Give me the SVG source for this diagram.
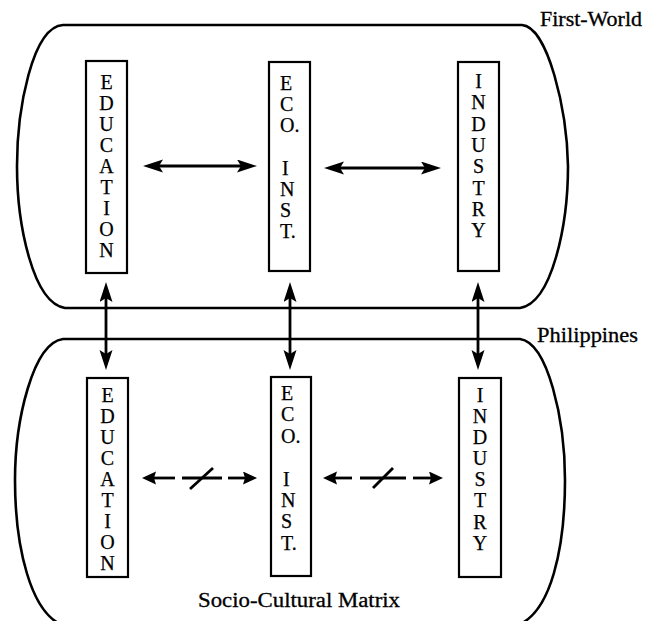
<svg xmlns="http://www.w3.org/2000/svg" width="649" height="621" viewBox="0 0 649 621">
<style>
.frame{fill:none;stroke:#000;stroke-width:2.6}
.box{fill:#fff;stroke:#000;stroke-width:2.2}
.lt{font-family:"Liberation Serif","Times New Roman",serif;font-size:20px;fill:#000;stroke:#000;stroke-width:0.25}
.lbl{font-family:"Liberation Serif","Times New Roman",serif;font-size:20px;fill:#000;stroke:#000;stroke-width:0.3}
.ar{stroke:#000;stroke-width:2.8;fill:none}
.mid{text-anchor:middle}
</style>
<defs>
<marker id="h" markerUnits="userSpaceOnUse" markerWidth="22" markerHeight="14" refX="12" refY="6.5" orient="auto-start-reverse" viewBox="0 0 22 14">
<path d="M0,0 L20,6.5 L0,13 L4,6.5 Z" fill="#000"/>
</marker>
<marker id="h2" markerUnits="userSpaceOnUse" markerWidth="16" markerHeight="14" refX="6" refY="6.5" orient="auto" viewBox="0 0 16 14">
<path d="M0,0 L14,6.5 L0,13 L2,6.5 Z" fill="#000"/>
</marker>
</defs>
<rect width="649" height="621" fill="#fff"/>

<g id="first-world">
<path class="frame" d="M63,25 L522,25 C548,27 567,110 568,166 C568,225 552,303 520,308 L65,308 C33,303 17,225 17,166 C17,110 32,27 63,25 Z"/>
<text class="lbl" x="540" y="26" textLength="102" lengthAdjust="spacingAndGlyphs">First-World</text>
</g>

<g id="philippines">
<path class="frame" d="M63,339 L520,339 C548,343 565,420 565,480 C565,545 552,615 515,626 L65,626 C30,615 15,545 15,480 C15,420 33,343 63,339 Z"/>
<text class="lbl" x="537" y="342" textLength="101" lengthAdjust="spacingAndGlyphs">Philippines</text>
<text class="lbl" x="198" y="607" textLength="202" lengthAdjust="spacingAndGlyphs">Socio-Cultural Matrix</text>
</g>

<g id="fw-education">
<rect class="box" x="86" y="61" width="41" height="212"/>
<text class="lt mid"><tspan x="106.5" y="89">E</tspan><tspan x="106.5" y="110">D</tspan><tspan x="106.5" y="131">U</tspan><tspan x="106.5" y="152">C</tspan><tspan x="106.5" y="173">A</tspan><tspan x="106.5" y="194">T</tspan><tspan x="106.5" y="215">I</tspan><tspan x="106.5" y="236">O</tspan><tspan x="106.5" y="257">N</tspan></text>
</g>

<g id="fw-eco">
<rect class="box" x="269" y="62" width="41" height="209"/>
<text class="lt"><tspan x="280" y="90">E</tspan><tspan x="280" y="111">C</tspan><tspan x="280" y="132">O.</tspan><tspan x="282" y="175">I</tspan><tspan x="280" y="196">N</tspan><tspan x="280" y="217">S</tspan><tspan x="280" y="238">T.</tspan></text>
</g>

<g id="fw-industry">
<rect class="box" x="458" y="62" width="41" height="209"/>
<text class="lt mid"><tspan x="478.5" y="88">I</tspan><tspan x="478.5" y="109">N</tspan><tspan x="478.5" y="131">D</tspan><tspan x="478.5" y="152">U</tspan><tspan x="478.5" y="173">S</tspan><tspan x="478.5" y="195">T</tspan><tspan x="478.5" y="216">R</tspan><tspan x="478.5" y="237">Y</tspan></text>
</g>

<g id="ph-education">
<rect class="box" x="87" y="378" width="41" height="199"/>
<text class="lt mid"><tspan x="107.5" y="402">E</tspan><tspan x="107.5" y="423">D</tspan><tspan x="107.5" y="444">U</tspan><tspan x="107.5" y="465">C</tspan><tspan x="107.5" y="486">A</tspan><tspan x="107.5" y="507">T</tspan><tspan x="107.5" y="528">I</tspan><tspan x="107.5" y="549">O</tspan><tspan x="107.5" y="570">N</tspan></text>
</g>

<g id="ph-eco">
<rect class="box" x="271" y="377" width="40" height="199"/>
<text class="lt"><tspan x="281" y="400">E</tspan><tspan x="281" y="421">C</tspan><tspan x="281" y="443">O.</tspan><tspan x="283" y="486">I</tspan><tspan x="281" y="507">N</tspan><tspan x="281" y="528">S</tspan><tspan x="281" y="550">T.</tspan></text>
</g>

<g id="ph-industry">
<rect class="box" x="459" y="378" width="42" height="199"/>
<text class="lt mid"><tspan x="480" y="402">I</tspan><tspan x="480" y="423">N</tspan><tspan x="480" y="444">D</tspan><tspan x="480" y="465">U</tspan><tspan x="480" y="486">S</tspan><tspan x="480" y="507">T</tspan><tspan x="480" y="529">R</tspan><tspan x="480" y="550">Y</tspan></text>
</g>

<g id="connectors">
<line class="ar" x1="151" y1="166" x2="249" y2="166" marker-start="url(#h)" marker-end="url(#h)"/>
<line class="ar" x1="332" y1="168" x2="433" y2="168" marker-start="url(#h)" marker-end="url(#h)"/>
<line class="ar" x1="106" y1="290" x2="106" y2="362" marker-start="url(#h)" marker-end="url(#h)"/>
<line class="ar" x1="290" y1="290" x2="290" y2="362" marker-start="url(#h)" marker-end="url(#h)"/>
<line class="ar" x1="478" y1="290" x2="478" y2="362" marker-start="url(#h)" marker-end="url(#h)"/>
<line class="ar" x1="175" y1="478" x2="150" y2="478" marker-end="url(#h2)"/>
<line class="ar" x1="182" y1="478" x2="222" y2="478"/>
<line class="ar" x1="190" y1="489" x2="213" y2="468"/>
<line class="ar" x1="228" y1="478" x2="249" y2="478" marker-end="url(#h2)"/>
<line class="ar" x1="352" y1="478" x2="331" y2="478" marker-end="url(#h2)"/>
<line class="ar" x1="360" y1="478" x2="406" y2="478"/>
<line class="ar" x1="373" y1="488" x2="393" y2="468"/>
<line class="ar" x1="413" y1="478" x2="435" y2="478" marker-end="url(#h2)"/>
</g>
</svg>
